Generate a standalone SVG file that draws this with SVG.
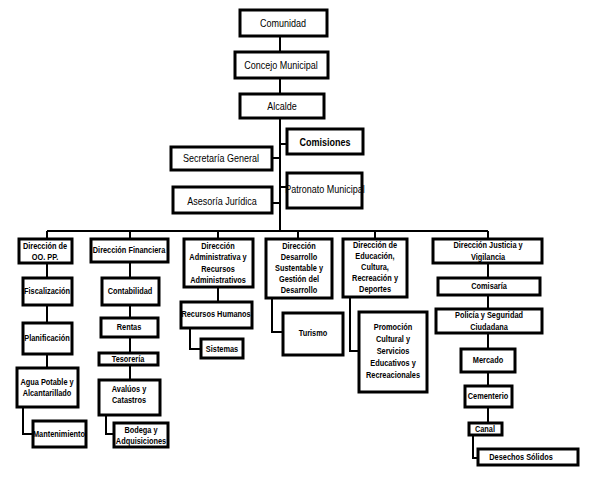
<svg xmlns="http://www.w3.org/2000/svg" width="589" height="477" viewBox="0 0 589 477">
<style>
.b{fill:#fff;stroke:#000;stroke-width:3}
.c{fill:none;stroke:#000;stroke-width:2}
text{font-family:"Liberation Sans",Arial,sans-serif;text-anchor:middle;dominant-baseline:central;fill:#000;transform-box:fill-box;transform-origin:center;transform:scaleX(.82)}
.t{font-size:11px}
.s{font-size:9px;font-weight:bold}
</style>
<rect width="589" height="477" fill="#fff"/>
<g id="connectors">
<path class="c" d="M280,36V51M280,78V93M280,118V231M280,144H286M272,158H280M280,187H287M272,203H280M47,231H488M47,231V238M130,231V238M218,231V238M298,231V238M375,231V238M488,231V238M47,263V277M47,305V322M47,354V368M23,407V434H32M130,262V277M130,305V318M130,337V353M130,365V380M106,415V434H113M218,287V301M190,328V349H200M272,298V332H282M350,297V351H358M488,263V277M488,295V308M488,333V348M488,372V385M488,407V422M473,435V458H477"/>
</g>
<g id="comunidad"><rect class="b" x="240" y="10" width="87" height="26"/><text class="t" x="283" y="23">Comunidad</text></g>
<g id="concejo"><rect class="b" x="235" y="52" width="93" height="26"/><text class="t" x="281" y="65">Concejo Municipal</text></g>
<g id="alcalde"><rect class="b" x="240" y="94" width="84" height="24"/><text class="t" x="282" y="106">Alcalde</text></g>
<g id="comisiones"><rect class="b" x="287" y="129" width="76" height="25"/><text class="t" x="325" y="142" font-weight="bold">Comisiones</text></g>
<g id="secretaria"><rect class="b" x="171" y="147" width="101" height="23"/><text class="t" x="221" y="158">Secretaría General</text></g>
<g id="patronato"><rect class="b" x="287" y="173" width="75" height="35"/><text class="t" x="325" y="189" font-size="10">Patronato Municipal</text></g>
<g id="asesoria"><rect class="b" x="173" y="187" width="99" height="26"/><text class="t" x="222" y="201">Asesoría Jurídica</text></g>
<g id="dir-oopp"><rect class="b" x="19" y="239" width="53" height="24"/><text class="s" x="45" y="246">Dirección de</text><text class="s" x="45" y="257">OO. PP.</text></g>
<g id="dir-financiera"><rect class="b" x="91" y="239" width="77" height="23"/><text class="s" x="129" y="250">Dirección Financiera</text></g>
<g id="dir-administrativa"><rect class="b" x="184" y="239" width="69" height="48"/><text class="s" x="218" y="246">Dirección</text><text class="s" x="218" y="257.5">Administrativa y</text><text class="s" x="218" y="269">Recursos</text><text class="s" x="218" y="280.5">Administrativos</text></g>
<g id="dir-desarrollo"><rect class="b" x="266" y="239" width="66" height="59"/><text class="s" x="299" y="246">Dirección</text><text class="s" x="299" y="257">Desarrollo</text><text class="s" x="299" y="268">Sustentable y</text><text class="s" x="299" y="279">Gestión del</text><text class="s" x="299" y="290">Desarrollo</text></g>
<g id="dir-educacion"><rect class="b" x="343" y="239" width="64" height="58"/><text class="s" x="375" y="245">Dirección de</text><text class="s" x="375" y="256">Educación,</text><text class="s" x="375" y="267">Cultura,</text><text class="s" x="375" y="278">Recreación y</text><text class="s" x="375" y="289">Deportes</text></g>
<g id="dir-justicia"><rect class="b" x="433" y="239" width="109" height="24"/><text class="s" x="488" y="245">Dirección Justicia y</text><text class="s" x="488" y="257">Vigilancia</text></g>
<g id="fiscalizacion"><rect class="b" x="23" y="278" width="49" height="27"/><text class="s" x="47" y="291">Fiscalización</text></g>
<g id="planificacion"><rect class="b" x="23" y="323" width="49" height="31"/><text class="s" x="47" y="338">Planificación</text></g>
<g id="agua"><rect class="b" x="17" y="368" width="61" height="39"/><text class="s" x="47" y="382">Agua Potable y</text><text class="s" x="47" y="393">Alcantarillado</text></g>
<g id="mantenimiento"><rect class="b" x="33" y="421" width="53" height="26"/><text class="s" x="59" y="434">Mantenimiento</text></g>
<g id="contabilidad"><rect class="b" x="102" y="278" width="57" height="27"/><text class="s" x="130" y="291">Contabilidad</text></g>
<g id="rentas"><rect class="b" x="101" y="318" width="57" height="19"/><text class="s" x="129" y="327">Rentas</text></g>
<g id="tesoreria"><rect class="b" x="99" y="353" width="59" height="12"/><text class="s" x="128" y="359">Tesorería</text></g>
<g id="avaluos"><rect class="b" x="99" y="380" width="61" height="35"/><text class="s" x="129" y="389">Avalúos y</text><text class="s" x="129" y="400">Catastros</text></g>
<g id="bodega"><rect class="b" x="114" y="423" width="54" height="24"/><text class="s" x="141" y="430">Bodega y</text><text class="s" x="141" y="441">Adquisiciones</text></g>
<g id="rrhh"><rect class="b" x="181" y="302" width="71" height="26"/><text class="s" x="216" y="314">Recursos Humanos</text></g>
<g id="sistemas"><rect class="b" x="201" y="339" width="42" height="19"/><text class="s" x="222" y="349">Sistemas</text></g>
<g id="turismo"><rect class="b" x="283" y="313" width="60" height="42"/><text class="s" x="313" y="333">Turismo</text></g>
<g id="promocion"><rect class="b" x="359" y="312" width="68" height="80"/><text class="s" x="393" y="327">Promoción</text><text class="s" x="393" y="339">Cultural y</text><text class="s" x="393" y="351">Servicios</text><text class="s" x="393" y="363">Educativos y</text><text class="s" x="393" y="375">Recreacionales</text></g>
<g id="comisaria"><rect class="b" x="438" y="278" width="102" height="17"/><text class="s" x="489" y="286">Comisaría</text></g>
<g id="policia"><rect class="b" x="436" y="309" width="106" height="24"/><text class="s" x="489" y="315">Policía y Seguridad</text><text class="s" x="489" y="327">Ciudadana</text></g>
<g id="mercado"><rect class="b" x="461" y="349" width="54" height="23"/><text class="s" x="488" y="360">Mercado</text></g>
<g id="cementerio"><rect class="b" x="465" y="386" width="47" height="21"/><text class="s" x="488" y="396">Cementerio</text></g>
<g id="canal"><rect class="b" x="469" y="423" width="33" height="12"/><text class="s" x="485" y="429">Canal</text></g>
<g id="desechos"><rect class="b" x="478" y="449" width="100" height="16"/><text class="s" x="521" y="457">Desechos Sólidos</text></g>
</svg>
